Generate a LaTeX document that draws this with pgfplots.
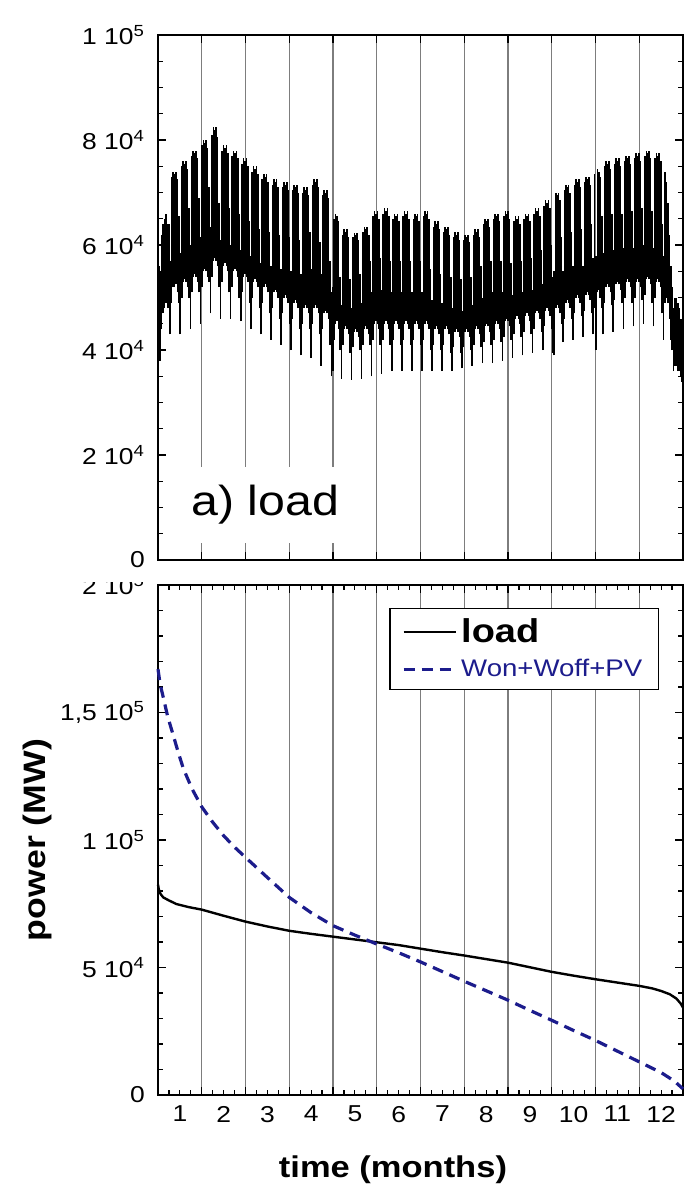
\documentclass[border=0pt]{standalone}
\usepackage{pgfplots}
\pgfplotsset{compat=1.18}
\usepackage{pgfplotstable}
\usepackage{fontspec}
\setmainfont{Liberation Sans}[FakeStretch=1.15]
\definecolor{navyb}{RGB}{28,28,140}
\definecolor{gridgray}{RGB}{125,125,125}

% hourly load condensed to daily minimum / maximum (thousand MW)
\pgfplotstableread[row sep=\\]{
d lo hi\\
0 42 56\\ 1 38 55\\ 2 44 62\\ 3 47 64\\ 4 48 65\\ 5 49 66\\ 6 48 64\\
7 48 64\\ 8 43 57\\ 9 49 73\\ 10 52 74\\ 11 52 73.5\\ 12 52.5 74\\ 13 51 72.5\\
14 49 65.5\\ 15 43 58.5\\ 16 50 75\\ 17 53 76\\ 18 53.5 75.5\\ 19 53 76\\ 20 52 74.5\\
21 50 67\\ 22 44 60\\ 23 51 77\\ 24 54 78\\ 25 54.5 77.5\\ 26 54 78\\ 27 53 76.5\\
28 51 69\\ 29 45 61.5\\ 30 52 79\\ 31 55 80\\ 32 55.5 79.5\\ 33 55 80\\ 34 54 78.5\\
35 53 71\\ 36 47 63.5\\ 37 54 81\\ 38 57 82.5\\ 39 57.5 82\\ 40 57 82.5\\ 41 56 80.5\\
42 52 68\\ 43 46 61\\ 44 53 78\\ 45 56 79\\ 46 56.5 78.5\\ 47 56 79\\ 48 55 77.5\\
49 51 67\\ 50 46 60\\ 51 52 77\\ 52 55 78\\ 53 55.5 77.5\\ 54 55 78\\ 55 54 76.5\\
56 50 66\\ 57 45.5 59\\ 58 51 75.5\\ 59 54 76.5\\ 60 54.5 76\\ 61 54 76.5\\ 62 53 75\\
63 49 64.5\\ 64 44 58\\ 65 50 74\\ 66 53 75\\ 67 53.5 74.5\\ 68 53 75\\ 69 52 73.5\\
70 48 63\\ 71 43 56.5\\ 72 49 72.5\\ 73 52 73.5\\ 74 52.5 73\\ 75 52 73.5\\ 76 51 72\\
77 47 62.5\\ 78 42 56\\ 79 48 71.5\\ 80 51 72.5\\ 81 51.5 72\\ 82 51 72.5\\ 83 50 71\\
84 46 62\\ 85 41 55.5\\ 86 47 71\\ 87 50 72\\ 88 50.5 71.5\\ 89 50 72\\ 90 49 70.5\\
91 45 61.5\\ 92 40 55\\ 93 46 70.5\\ 94 49 71.5\\ 95 49.5 71\\ 96 49 71.5\\ 97 48 70\\
98 44 61\\ 99 39 54.5\\ 100 45 70\\ 101 48 71\\ 102 48.5 70.5\\ 103 48 71\\ 104 47 69.5\\
105 44 62.5\\ 106 38.5 55.5\\ 107 45 71.5\\ 108 48 72.5\\ 109 48.5 72\\ 110 48 72.5\\ 111 47 71\\
112 43 60.5\\ 113 37 54.5\\ 114 44 69.5\\ 115 47 70.5\\ 116 47.5 70\\ 117 47 70.5\\ 118 46 69\\
119 41 57\\ 120 35 51\\ 121 36 52\\ 122 42 65\\ 123 45 66\\ 124 45.5 65.5\\ 125 44 64.5\\
126 40 54\\ 127 34.5 48.5\\ 128 41 62\\ 129 44 63\\ 130 44.5 62.5\\ 131 44 63\\ 132 43 61.5\\
133 39.5 53.5\\ 134 34.3 48\\ 135 40.5 61.5\\ 136 43.5 62.3\\ 137 44 62\\ 138 43.5 62.3\\ 139 42.5 61\\
140 40 54.5\\ 141 34.5 49\\ 142 41 62.5\\ 143 44 63.5\\ 144 44.5 63\\ 145 44 63.5\\ 146 43 62\\
147 41 57\\ 148 35 51\\ 149 42 65.5\\ 150 45 66.5\\ 151 45.5 66\\ 152 45 66.5\\ 153 44 65\\
154 41 57.5\\ 155 35.5 51.5\\ 156 42 66\\ 157 45 67\\ 158 45.5 66.5\\ 159 45 67\\ 160 44 65.5\\
161 41 57\\ 162 36 51\\ 163 42 65\\ 164 45 66\\ 165 45.5 65.5\\ 166 45 66\\ 167 44 64.5\\
168 41 57\\ 169 36 51\\ 170 42 65.5\\ 171 45 66.5\\ 172 45.5 66\\ 173 45 66.5\\ 174 44 65\\
175 41 57\\ 176 36 51\\ 177 42 65\\ 178 45 66\\ 179 45.5 65.5\\ 180 45 66\\ 181 44 64.5\\
182 41 57\\ 183 36 51\\ 184 42 65.5\\ 185 45 66.5\\ 186 45.5 66\\ 187 45 66.5\\ 188 44 65\\
189 40 55.5\\ 190 36 49.5\\ 191 41 63.5\\ 192 44 64.5\\ 193 44.5 64\\ 194 44 64.5\\ 195 43 63\\
196 40 54.5\\ 197 36 49\\ 198 41 62.5\\ 199 44 63.5\\ 200 44.5 63\\ 201 44 63.5\\ 202 43 62\\
203 39.5 54\\ 204 36 48\\ 205 40.5 61.5\\ 206 43.5 62.5\\ 207 44 62\\ 208 43.5 62.5\\ 209 42.5 61\\
210 39.5 53.5\\ 211 36.5 47.5\\ 212 40.5 61\\ 213 43.5 62\\ 214 44 61.5\\ 215 43.5 62\\ 216 42.5 60.5\\
217 40 54\\ 218 37 48.5\\ 219 41 62\\ 220 44 63\\ 221 44.5 62.5\\ 222 44 63\\ 223 43 61.5\\
224 40.5 56\\ 225 37.5 50\\ 226 41.5 64\\ 227 44.5 65\\ 228 45 64.5\\ 229 44.5 65\\ 230 43.5 63.5\\
231 41 57\\ 232 37.5 51\\ 233 42 65\\ 234 45 66\\ 235 45.5 65.5\\ 236 45 66\\ 237 44 64.5\\
238 41.5 57\\ 239 38 51\\ 240 42.5 65.5\\ 241 45.5 66.5\\ 242 46 66\\ 243 45.5 66.5\\ 244 44.5 65\\
245 42 56.5\\ 246 38.5 50.5\\ 247 43 64.5\\ 248 46 65.5\\ 249 46.5 65\\ 250 46 65.5\\ 251 45 64\\
252 42.5 57\\ 253 39 51\\ 254 43.5 65\\ 255 46.5 66\\ 256 47 65.5\\ 257 46.5 66\\ 258 45.5 64.5\\
259 43 57.5\\ 260 39.5 51.5\\ 261 44 66\\ 262 47 67\\ 263 47.5 66.5\\ 264 47 67\\ 265 46 65.5\\
266 43.5 59\\ 267 40 52.5\\ 268 44.5 67.5\\ 269 47.5 68.5\\ 270 48 68\\ 271 47.5 68.5\\ 272 46.5 67\\
273 44 60\\ 274 39.5 54\\ 275 39 55\\ 276 48 70\\ 277 48.5 69.5\\ 278 48 70\\ 279 47 68.5\\
280 45 61.5\\ 281 41.5 55\\ 282 46 70.5\\ 283 49 71.5\\ 284 49.5 71\\ 285 49 71.5\\ 286 48 70\\
287 46 62.5\\ 288 42 56\\ 289 47 71.5\\ 290 50 72.5\\ 291 50.5 72\\ 292 50 72.5\\ 293 49 71\\
294 46.5 63\\ 295 42.5 56\\ 296 47.5 72\\ 297 50.5 73\\ 298 51 72.5\\ 299 50.5 73\\ 300 49.5 71.5\\
301 47 64\\ 302 43 57.5\\ 303 48 73.5\\ 304 40 58\\ 305 51 74.5\\ 306 51.5 74\\ 307 50 73\\
308 48 65.5\\ 309 43 58.5\\ 310 49 75\\ 311 52 76\\ 312 52.5 75.5\\ 313 52 76\\ 314 51 74.5\\
315 48.5 66\\ 316 43.5 59\\ 317 49.5 75.5\\ 318 52.5 76.5\\ 319 53 76\\ 320 52.5 76.5\\ 321 51.5 75\\
322 49 66\\ 323 44 59.5\\ 324 50 76\\ 325 53 77\\ 326 53.5 76.5\\ 327 53 77\\ 328 52 75.5\\
329 49 66.5\\ 330 44.5 59.5\\ 331 50 76.5\\ 332 53 77.5\\ 333 53.5 77\\ 334 53 77.5\\ 335 52 76\\
336 49.5 67\\ 337 45 60\\ 338 50.5 77\\ 339 53.5 78\\ 340 54 77.5\\ 341 53.5 78\\ 342 52.5 76.5\\
343 49 66.5\\ 344 44.5 59.5\\ 345 50 76.5\\ 346 53 77.5\\ 347 53.5 77\\ 348 53 77.5\\ 349 52 76\\
350 47 64\\ 351 42 58\\ 352 49 74\\ 353 50 72\\ 354 49 68\\ 355 46 62\\ 356 42 56\\
357 40 52\\ 358 36 48\\ 359 37 50\\ 360 37 50\\ 361 36 49\\ 362 36 48\\ 363 35 46\\ 364 34 44\\
}\loadtab

% load duration curve (thousand MW)
\pgfplotstableread[row sep=\\]{
x y\\
0 82.5\\ 0.02 80.5\\ 0.06 78.8\\ 0.12 77.5\\ 0.25 76.3\\ 0.42 74.9\\ 0.7 73.7\\ 1 72.7\\
1.5 70.3\\ 2 68\\ 2.5 66.1\\ 3 64.4\\ 3.5 63.2\\ 4 62.1\\ 4.5 61\\ 5 59.9\\
5.5 58.8\\ 6 57.4\\ 6.5 56\\ 7 54.7\\ 7.5 53.3\\ 8 51.9\\ 8.5 50.1\\ 9 48.3\\
9.5 46.8\\ 10 45.4\\ 10.5 44.1\\ 11 42.8\\ 11.3 41.8\\ 11.5 40.8\\ 11.7 39.5\\
11.85 37.8\\ 11.95 35.8\\ 12 34.3\\
}\ldctab

% renewable (Won+Woff+PV) duration curve (thousand MW)
\pgfplotstableread[row sep=\\]{
x y\\
0 167\\ 0.05 161\\ 0.12 156\\ 0.22 148.5\\ 0.35 141\\ 0.46 134.5\\ 0.58 128\\ 0.78 120\\
1 113\\ 1.25 107\\ 1.5 101.7\\ 1.75 97.2\\ 2 93.2\\ 2.5 85.3\\ 3 77.5\\ 3.5 71.5\\
4 66.4\\ 4.5 62.7\\ 5 59.2\\ 5.5 55.8\\ 6 52.2\\ 6.5 48.4\\ 7 44.6\\ 7.5 40.9\\
8 37.2\\ 8.5 33.2\\ 9 29.3\\ 9.5 25.3\\ 10 21.4\\ 10.5 17.2\\ 11 13\\ 11.5 8.8\\
11.8 5.5\\ 12 2.4\\
}\rentab

\pgfplotsset{
  base/.style={
    scale only axis, width=262.5pt, xmin=0, xmax=12,
    axis line style={line width=0.9pt},
    every tick/.style={black, line width=0.6pt},
    major tick length=4pt, minor tick length=2.5pt,
    tick align=inside,
    xtick={0,...,12}, xticklabels={},
    xmajorgrids, major x grid style={draw=gridgray, line width=0.6pt},
    yticklabel style={font=\fontsize{11.5}{12}\selectfont, xshift=-3pt},
    xticklabel style={font=\fontsize{11.5}{12}\selectfont, yshift=-2pt},
    clip=false,
  }
}

\begin{document}
\begin{tikzpicture}
\path[use as bounding box] (0,0) rectangle (343pt,-595.5pt);

% ---------- bottom panel ----------
\begin{axis}[base,
  at={(79pt,-547.5pt)}, anchor=south west, height=255pt,
  ymin=0, ymax=200, ytick={0,50,100,150,200},
  yticklabels={0, 5 10\textsuperscript{4}, 1 10\textsuperscript{5}, {1,5 10\textsuperscript{5}}, 2 10\textsuperscript{5}},
  minor y tick num=4, minor x tick num=3,
  extra x ticks={0.5,1.5,2.5,3.5,4.5,5.5,6.5,7.5,8.5,9.5,10.5,11.5},
  extra x tick labels={1,2,3,4,5,6,7,8,9,10,11,12},
  extra x tick style={major tick length=0pt, grid=none},
  xlabel={time (months)},
  xlabel style={at={(rel axis cs:0.4476,-0.147)}, anchor=center, font=\bfseries\fontsize{15}{15}\selectfont},
  ylabel={power (MW)},
  ylabel style={at={(rel axis cs:-0.2286,0.5)}, anchor=center, font=\bfseries\fontsize{15.5}{15.5}\selectfont},
  legend style={at={(rel axis cs:0.954,0.955)}, anchor=north east, draw=black, line width=0.6pt,
    fill=white, inner xsep=6pt, inner ysep=3pt, row sep=3pt},
  legend cell align=left,
  legend image code/.code={\draw[#1] (0pt,0pt) -- (26pt,0pt);},
]
\addplot[black, line width=1.2pt] table[x=x, y=y] {\ldctab};
\addlegendentry[font=\bfseries\fontsize{16.5}{16.5}\selectfont]{load}
\addplot[navyb, line width=1.6pt, dash pattern=on 5.5pt off 3.5pt] table[x=x, y=y] {\rentab};
\addlegendentry[font=\fontsize{12}{12}\selectfont, text=navyb]{Won+Woff+PV}
\end{axis}

% hide the upper half of the top tick label of the lower panel
\fill[white] (35pt,-280pt) rectangle (77pt,-291pt);

% ---------- top panel ----------
\begin{axis}[base,
  at={(79pt,-280pt)}, anchor=south west, height=262.5pt,
  ymin=0, ymax=100, ytick={0,20,40,60,80,100},
  yticklabels={0, 2 10\textsuperscript{4}, 4 10\textsuperscript{4}, 6 10\textsuperscript{4}, 8 10\textsuperscript{4}, 1 10\textsuperscript{5}},
  minor y tick num=3,
]
\addplot[draw=none, mark=none,
  error bars/.cd, y dir=plus, y explicit, error mark=none,
  error bar style={draw=black, line width=0.8pt, solid}]
  table[x expr=(\thisrow{d}+0.5)/30.417, y=lo, y error expr=\thisrow{hi}-\thisrow{lo}] {\loadtab};
\node[fill=white, inner xsep=3pt, inner ysep=0pt, minimum height=38pt,
  font=\fontsize{21}{21}\selectfont] at (rel axis cs:0.204,0.105) {a) load};
\end{axis}
\end{tikzpicture}
\end{document}
